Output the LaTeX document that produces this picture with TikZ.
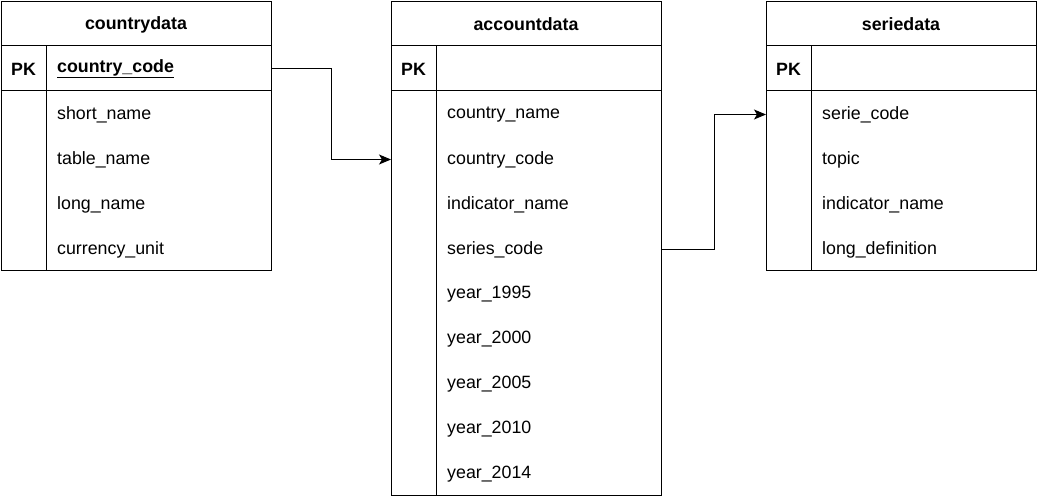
\documentclass[tikz,border=0pt]{standalone}
\usepackage{fontspec}
\setmainfont{Liberation Sans}
\usetikzlibrary{calc,arrows.meta}
\tikzset{
	tbl/.style={draw, line width=1pt, inner sep=0pt, minimum width=270pt, anchor=north west},
	fld/.style={anchor=west, inner sep=0pt, font=\fontsize{17.8}{20}\selectfont},
	ttl/.style={inner sep=0pt, font=\fontsize{17.8}{20}\selectfont\bfseries},
	rule/.style={line width=1pt},
	conn/.style={line width=1pt, -{Stealth[length=12pt,width=10pt,inset=3pt]}},
}

\begin{document}
\begin{tikzpicture}[x=1pt,y=-1pt]
			%%%%% START %%%%%
			\useasboundingbox (0,0) rectangle (1037,497);
			
			%%%%% countrydata %%%%%
			\node[tbl, minimum height=269pt] (cd) at (1,1) {};
			\draw[rule] (1,46) -- (271,46);
			\draw[rule] (1,91) -- (271,91);
			\draw[rule] (46,46) -- (46,270);
			\node[ttl] (cd-title) at (136,24.5) {countrydata};
			\node[ttl] (cd-pk) at (23.5,69.5) {PK};
			\node[fld, font=\fontsize{17.8}{20}\selectfont\bfseries] (cd-ccode) at (57,68.5) {\underline{country\_code}};
			\foreach \t [count=\i] in {short\_name, table\_name, long\_name, currency\_unit}
				\node[fld] (cd-f\i) at (57,69.5+45*\i) {\t};
			
			%%%%% accountdata %%%%%
			\node[tbl, minimum height=494pt] (ad) at (391,1) {};
			\draw[rule] (391,46) -- (661,46);
			\draw[rule] (391,91) -- (661,91);
			\draw[rule] (436,46) -- (436,495);
			\node[ttl] (ad-title) at (526,24.5) {accountdata};
			\node[ttl] (ad-pk) at (413.5,69.5) {PK};
			\foreach \t [count=\i] in {country\_name, country\_code, indicator\_name, series\_code,
				year\_1995, year\_2000, year\_2005, year\_2010, year\_2014}
				\node[fld] (ad-f\i) at (447,69.5+45*\i) {\t};
			
			%%%%% seriedata %%%%%
			\node[tbl, minimum height=269pt] (sd) at (766,1) {};
			\draw[rule] (766,46) -- (1036,46);
			\draw[rule] (766,91) -- (1036,91);
			\draw[rule] (811,46) -- (811,270);
			\node[ttl] (sd-title) at (901,24.5) {seriedata};
			\node[ttl] (sd-pk) at (788.5,69.5) {PK};
			\foreach \t [count=\i] in {serie\_code, topic, indicator\_name, long\_definition}
				\node[fld] (sd-f\i) at (822,69.5+45*\i) {\t};
			
			%%%%% links %%%%%
			\coordinate (m1) at ($(cd.east)!0.5!(ad.west)$);
			\coordinate (m2) at ($(ad.east)!0.5!(sd.west)$);
			\draw[conn] (cd.east |- cd-ccode) -| (m1 |- ad-f2) -- (ad.west |- ad-f2);
			\draw[conn] (ad.east |- ad-f4) -| (m2 |- sd-f1) -- (sd.west |- sd-f1);
			
			%%%%% END %%%%%
\end{tikzpicture}
\end{document}
